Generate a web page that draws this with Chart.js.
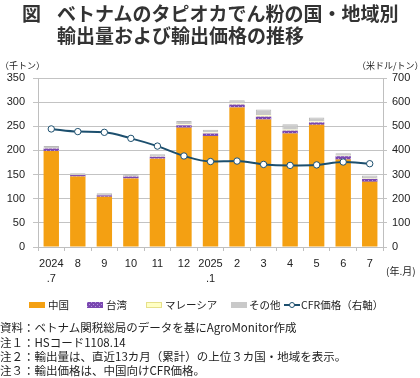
<!DOCTYPE html>
<html><head><meta charset="utf-8">
<script src="https://cdn.jsdelivr.net/npm/chart.js@4/dist/chart.umd.min.js"></script>
<style>
html,body{margin:0;padding:0;background:#fff;}
#wrap{position:relative;width:420px;height:378px;overflow:hidden;font-family:"Noto Sans CJK JP",sans-serif;color:#222;}
.t{position:absolute;white-space:nowrap;}
#cv{position:absolute;left:0;top:0;}
.sw{position:absolute;height:6px;width:16px;}
</style></head>
<body><div id="wrap">
<canvas id="cv" width="420" height="300"></canvas>
<div class="t" style="left:22px;top:1px;font-size:19px;font-weight:700;color:#333;line-height:24px;">図</div>
<div class="t" style="left:57px;top:1px;font-size:19px;font-weight:700;color:#333;line-height:24px;">ベトナムのタピオカでん粉の国・地域別</div>
<div class="t" style="left:57px;top:23px;font-size:19px;font-weight:700;color:#333;line-height:24px;">輸出量および輸出価格の推移</div>
<div class="t" style="left:0px;top:59px;font-size:9px;line-height:14px;">（千トン）</div>
<div class="t" style="left:357px;top:59px;font-size:9px;line-height:14px;">（米ドル/トン）</div>
<div class="t" style="left:386px;top:264px;font-size:10px;line-height:14px;">(年.月)</div>
<div id="legend"></div>
<div class="t" style="left:0px;top:320px;font-size:11.5px;line-height:14px;">資料：ベトナム関税総局のデータを基にAgroMonitor作成</div>
<div class="t" style="left:0px;top:334.5px;font-size:11.5px;line-height:14px;">注１：HSコード1108.14</div>
<div class="t" style="left:0px;top:349px;font-size:11.5px;line-height:14px;">注２：輸出量は、直近13カ月（累計）の上位３カ国・地域を表示。</div>
<div class="t" style="left:0px;top:363px;font-size:11.5px;line-height:14px;">注３：輸出価格は、中国向けCFR価格。</div>
</div>
<script>
const categories = [['2024','.7'],'8','9','10','11','12',['2025','.1'],'2','3','4','5','6','7'];
const china    = [199,146,104,142,183,247,230,289,264,235,253,181,135];
const taiwan   = [5,3,3,4,4,5,5,6,6,6,5,7,6];
const malaysia = [1,0.5,0.5,1,1,2,2,2,3,2,2,1,1];
const other    = [4,3,4,4,4,7,6,7,12,11,8,5,6];
const cfrPrice = [489,478,475,450,418,377,354,356,342,338,340,352,345];
const leftTicks = [0,50,100,150,200,250,300,350];
const rightTicks = [0,100,200,300,400,500,600,700];
const seriesNames = ['中国','台湾','マレーシア','その他','CFR価格（右軸）'];

const ORANGE='#F4A012', PURPLE='#7A48B0', YELLOW='#FFFFC4', GRAY='#C9C9C9', LINE='#1C4F6E';

function makePattern(){
  const c=document.createElement('canvas');c.width=4;c.height=4;
  const x=c.getContext('2d');
  x.fillStyle=PURPLE;x.fillRect(0,0,4,4);
  x.fillStyle='#B596DE';x.fillRect(0,0,1,1);x.fillRect(2,2,1,1);
  return {pat:x.createPattern(c,'repeat'),url:c.toDataURL()};
}
const tp = makePattern();

// legend (HTML)
const leg=document.getElementById('legend');
const legItems=[
  {x:29,sw:'background:'+ORANGE,tx:48},
  {x:87,sw:'background:url('+tp.url+');',tx:106},
  {x:146,sw:'background:'+YELLOW+';box-sizing:border-box;border:1px solid #E6E08A',tx:165},
  {x:231,sw:'background:'+GRAY,tx:249},
  {x:284,line:true,tx:301}
];
legItems.forEach((it,i)=>{
  if(it.line){
    leg.insertAdjacentHTML('beforeend','<div class="t" style="left:'+it.x+'px;top:304px;width:16px;height:2px;background:'+LINE+'"></div><div class="t" style="left:'+(it.x+5)+'px;top:302px;width:4px;height:4px;border-radius:50%;background:#fff;border:1px solid '+LINE+'"></div>');
  } else {
    leg.insertAdjacentHTML('beforeend','<div class="sw t" style="left:'+it.x+'px;top:302px;'+it.sw+'"></div>');
  }
  leg.insertAdjacentHTML('beforeend','<div class="t" style="left:'+it.tx+'px;top:297px;font-size:10.5px;line-height:15px;">'+seriesNames[i]+'</div>');
});

const tickFont={family:'"Liberation Sans", Arial, sans-serif',size:11};
new Chart(document.getElementById('cv'),{
  data:{
    labels:categories,
    datasets:[
      {type:'line',label:seriesNames[4],data:cfrPrice,yAxisID:'y1',order:0,borderColor:LINE,borderWidth:2,
       pointRadius:3.2,pointBackgroundColor:'#fff',pointBorderColor:LINE,pointBorderWidth:1,tension:0.3,cubicInterpolationMode:'monotone'},
      {type:'bar',label:seriesNames[0],data:china,yAxisID:'y',order:1,backgroundColor:ORANGE,barPercentage:0.58,categoryPercentage:1},
      {type:'bar',label:seriesNames[1],data:taiwan,yAxisID:'y',order:1,backgroundColor:tp.pat,barPercentage:0.58,categoryPercentage:1},
      {type:'bar',label:seriesNames[2],data:malaysia,yAxisID:'y',order:1,backgroundColor:YELLOW,barPercentage:0.58,categoryPercentage:1},
      {type:'bar',label:seriesNames[3],data:other,yAxisID:'y',order:1,backgroundColor:GRAY,borderColor:'#B8B8B8',borderWidth:{top:1,left:1,right:1,bottom:0},barPercentage:0.58,categoryPercentage:1}
    ]
  },
  options:{
    responsive:false,animation:false,devicePixelRatio:1,
    layout:{padding:{top:78,left:0,right:0,bottom:0}},
    plugins:{legend:{display:false},tooltip:{enabled:false}},
    scales:{
      x:{stacked:true,offset:true,
         grid:{display:true,drawOnChartArea:false,offset:true,tickLength:4,tickColor:'#BFBFBF'},
         border:{color:'#BFBFBF'},
         ticks:{font:{...tickFont,lineHeight:1.4},color:'#222',padding:5,maxRotation:0,autoSkip:false},
         afterFit(s){s.height=53;}},
      y:{stacked:true,position:'left',min:0,max:350,
         afterBuildTicks(s){s.ticks=leftTicks.map(v=>({value:v}));},
         grid:{color:'#C3C3C3',tickLength:5,tickColor:'#C3C3C3'},
         border:{color:'#BFBFBF'},
         ticks:{font:tickFont,color:'#222',padding:8},
         afterFit(s){s.width=38;}},
      y1:{position:'right',min:0,max:700,
         afterBuildTicks(s){s.ticks=rightTicks.map(v=>({value:v}));},
         grid:{drawOnChartArea:false,tickLength:4,tickColor:'#C3C3C3'},
         border:{color:'#BFBFBF'},
         ticks:{font:tickFont,color:'#222',padding:5},
         afterFit(s){s.width=37;}}
    }
  }
});
</script>
</body></html>
